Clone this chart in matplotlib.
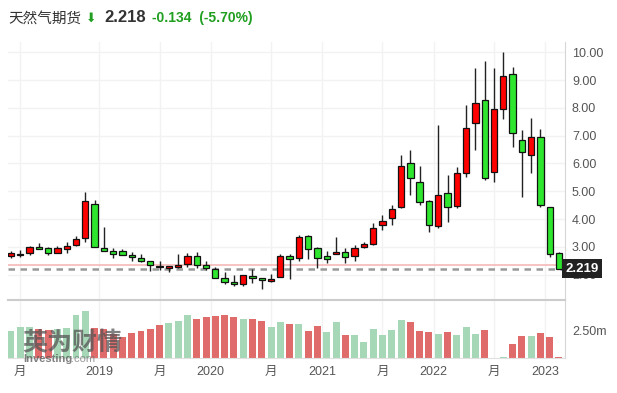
import numpy as np
import matplotlib
matplotlib.use("Agg")
import matplotlib.pyplot as plt

plt.rcParams['font.family'] = ['Liberation Sans', 'Noto Sans CJK SC', 'DejaVu Sans']

# monthly candles, Mar 2018 .. Feb 2023
opens = [2.69, 2.70, 2.79, 3.00, 2.95, 2.79, 2.93, 3.06, 3.31, 4.53,
         2.95, 2.85, 2.84, 2.72, 2.59, 2.48, 2.32, 2.24, 2.27, 2.37,
         2.66, 2.35, 2.22, 1.88, 1.74, 1.68, 1.95, 1.89, 1.78, 1.91,
         2.66, 2.59, 3.39, 2.95, 2.67, 2.74, 2.82, 2.67, 2.99, 3.10,
         3.78, 4.03, 4.42, 6.01, 5.32, 4.65, 3.75, 4.93, 4.47, 5.65,
         7.45, 8.27, 5.68, 7.95, 9.21, 6.83, 6.30, 6.96, 4.42, 2.77]
highs = [2.85, 2.88, 3.03, 3.13, 2.98, 3.03, 3.16, 3.38, 4.97, 4.69,
         3.73, 2.97, 2.91, 2.83, 2.76, 2.50, 2.51, 2.30, 2.73, 2.77,
         2.81, 2.51, 2.29, 2.08, 2.00, 1.99, 2.19, 1.89, 2.03, 2.76,
         2.75, 3.43, 3.43, 2.98, 2.87, 3.35, 2.95, 3.06, 3.18, 3.86,
         4.15, 4.50, 6.31, 6.49, 5.91, 4.68, 7.39, 5.59, 5.89, 8.10,
         9.42, 9.69, 9.42, 10.00, 9.46, 7.20, 7.63, 7.23, 4.42, 2.81]
lows = [2.60, 2.65, 2.71, 2.91, 2.71, 2.79, 2.79, 3.04, 3.17, 2.99,
        2.84, 2.60, 2.70, 2.48, 2.45, 2.14, 2.17, 2.08, 2.24, 2.27,
        2.24, 2.17, 1.87, 1.67, 1.60, 1.58, 1.69, 1.48, 1.74, 1.91,
        1.83, 2.50, 2.55, 2.23, 2.43, 2.74, 2.43, 2.48, 2.95, 3.08,
        3.61, 3.80, 4.40, 4.87, 4.50, 3.55, 3.67, 3.91, 4.39, 5.53,
        6.49, 5.41, 5.35, 7.59, 6.58, 4.78, 5.65, 4.45, 2.65, 2.219]
closes = [2.77, 2.76, 3.00, 2.92, 2.79, 2.95, 3.02, 3.27, 4.64, 2.99,
          2.84, 2.76, 2.70, 2.63, 2.48, 2.34, 2.27, 2.30, 2.34, 2.66,
          2.35, 2.23, 1.87, 1.73, 1.66, 1.98, 1.87, 1.81, 1.86, 2.66,
          2.55, 3.37, 2.91, 2.59, 2.58, 2.82, 2.65, 2.95, 3.10, 3.67,
          3.92, 4.37, 5.90, 5.47, 4.60, 3.78, 4.88, 4.42, 5.65, 7.27,
          8.17, 5.47, 7.95, 9.14, 7.09, 6.40, 6.94, 4.51, 2.74, 2.219]

# volume in millions and bar colour flag (G/R)
volumes = [2.47, 2.87, 2.87, 2.65, 2.60, 2.65, 2.74, 3.96, 4.39, 2.74,
           2.65, 2.20, 1.92, 2.29, 2.47, 2.65, 3.02, 3.20, 3.38, 4.02,
           3.57, 3.75, 3.87, 4.02, 3.75, 3.57, 3.57, 3.38, 2.84, 3.29,
           3.11, 3.11, 2.47, 2.93, 2.38, 3.29, 2.10, 2.10, 1.46, 2.65,
           2.10, 2.56, 3.48, 3.29, 2.47, 2.38, 2.20, 2.38, 2.10, 2.84,
           2.20, 2.56, 0.0, 0.09, 1.31, 2.01, 2.01, 2.29, 1.92, 0.09]
vol_flags = list("GGGRRGGGGRRRRRRRRGGGRRRRRGRRGGRGRRGGRGGGGGGRRRGRGGGRGGRRGRRR")

tick_pos = [1, 9.5, 16, 21.5, 28, 33.5, 40, 45.5, 52, 57.5]
tick_labels = ['月', '2019', '月', '2020', '月', '2021', '月', '2022', '月', '2023']
price_ticks = [2, 3, 4, 5, 6, 7, 8, 9, 10]

last_price = 2.219
prev_close = 2.352

W, H = 617, 393
fig = plt.figure(figsize=(W / 100, H / 100), dpi=100)
fig.patch.set_facecolor('white')

def box(l, t, r, b):
    return [l / W, 1 - b / H, (r - l) / W, (b - t) / H]

ax = fig.add_axes(box(8, 42, 565, 300))
axv = fig.add_axes(box(8, 300, 565, 358), sharex=ax)

x = np.arange(len(opens))
o = np.array(opens); c = np.array(closes)
up = c >= o
body_col = np.where(up, '#ff0000', '#2ee62e')

# grid
for yv in price_ticks:
    ax.axhline(yv, color='#f2f2f2', lw=1, zorder=0)
for tp in tick_pos:
    ax.axvline(tp, color='#f2f2f2', lw=1, zorder=0)
    axv.axvline(tp, color='#f2f2f2', lw=1, zorder=0)

ax.vlines(x, lows, highs, color='#222222', lw=1, zorder=2)
bh = np.maximum(np.abs(c - o), 0.03)
ax.bar(x, bh, bottom=np.minimum(o, c), width=0.68, color=body_col,
       edgecolor='#111111', linewidth=0.9, zorder=3)

ax.axhline(prev_close, color='#f5b3b3', lw=1.1, zorder=1)
ax.axhline(last_price, color='#999999', lw=1.8, ls=(0, (2.6, 2.2)), zorder=1)

ax.set_xlim(-0.32, 59.65)
ax.set_ylim(1.09, 10.37)
ax.yaxis.tick_right()
ax.set_yticks(price_ticks)
ax.set_yticklabels(['%.2f' % v for v in price_ticks])
ax.tick_params(axis='y', length=0, pad=5, labelsize=9, labelcolor='#555555')
ax.tick_params(axis='x', length=0, labelbottom=False)
for s in ['top', 'left', 'bottom']:
    ax.spines[s].set_visible(False)
ax.spines['right'].set_color('#d6d6d6')

# current price tag (covers the 2.00 label as in the original)
ax.text(1.0, last_price, '2.219', transform=ax.get_yaxis_transform(),
        ha='left', va='center', color='white', fontsize=9.5, fontweight='bold',
        bbox=dict(boxstyle='square,pad=0.25', fc='#222222', ec='none'),
        zorder=10, clip_on=False)

# volume panel
vcol = ['#a6d7b6' if f == 'G' else '#e06b6b' for f in vol_flags]
axv.bar(x, volumes, width=0.75, color=vcol, zorder=2)
axv.set_ylim(0, 5.37)
axv.yaxis.tick_right()
axv.set_yticks([2.5])
axv.set_yticklabels(['2.50m'])
axv.tick_params(axis='y', length=0, pad=5, labelsize=9, labelcolor='#555555')
axv.set_xticks(tick_pos)
axv.set_xticklabels(tick_labels)
axv.tick_params(axis='x', length=0, pad=6, labelsize=9, labelcolor='#555555')
axv.spines['left'].set_visible(False)
axv.spines['top'].set_color('#cccccc')
axv.spines['top'].set_linewidth(1.5)
axv.spines['bottom'].set_color('#e0e0e0')
axv.spines['right'].set_color('#d6d6d6')

# watermark
fig.text(22 / W, 1 - 350 / H, '英为财情', fontsize=18, fontweight='bold',
         color='#555555', alpha=0.75, family=['Noto Sans CJK SC'], va='baseline')
fig.text(23 / W, 1 - 362 / H, 'Investing', fontsize=8, fontweight='bold',
         color='#555555', alpha=0.75, va='baseline')
fig.text(71 / W, 1 - 362 / H, '.com', fontsize=8, color='#777777', alpha=0.75,
         va='baseline')

# header
fig.text(8 / W, 1 - 23 / H, '天然气期货', fontsize=10.5, color='#333333',
         family=['Noto Sans CJK SC'])
fig.text(86 / W, 1 - 22 / H, '\u2b07', fontsize=9, color='#1f9e1f',
         family=['DejaVu Sans'])
fig.text(104 / W, 1 - 22 / H, '2.218', fontsize=12, fontweight='bold', color='#333333')
fig.text(152 / W, 1 - 22 / H, '-0.134  (-5.70%)', fontsize=10, fontweight='bold',
         color='#1f9e1f')

fig.savefig('out.png', dpi=100)
